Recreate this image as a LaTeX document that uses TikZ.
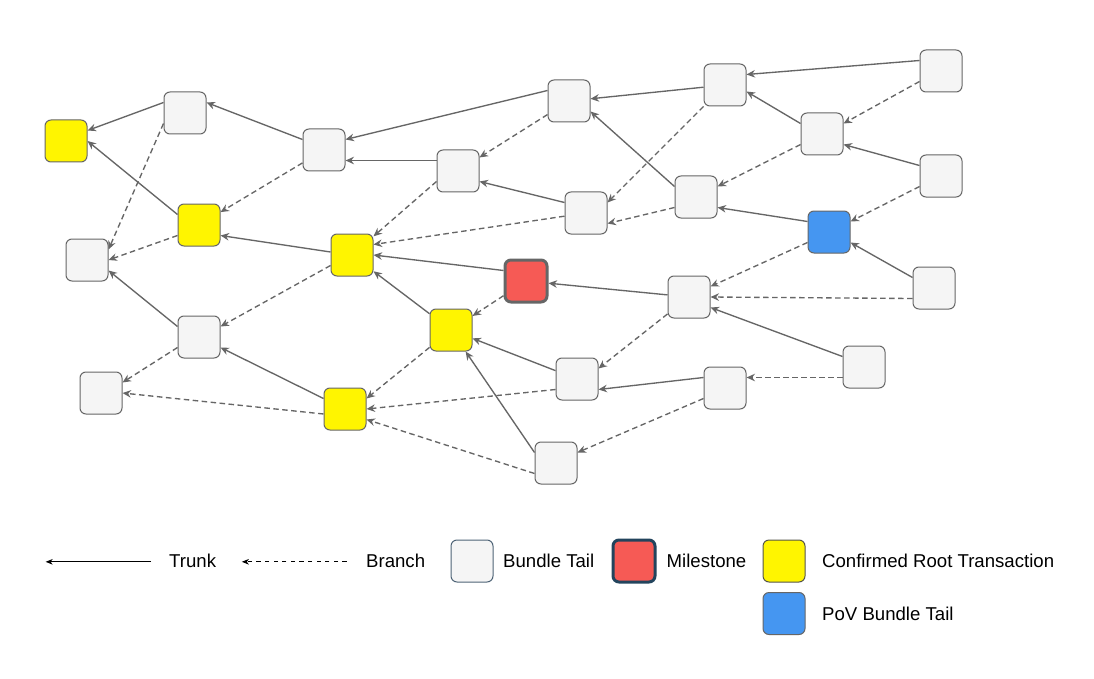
\documentclass[tikz,border=0pt]{standalone}
\usepackage{fontspec}
\setmainfont{Liberation Sans}
\usetikzlibrary{arrows.meta,calc}
\definecolor{cedge}{HTML}{666666}
\definecolor{cbox}{HTML}{666666}
\definecolor{cgray}{HTML}{F5F5F5}
\definecolor{cyel}{HTML}{FFF500}
\definecolor{cred}{HTML}{F65A55}
\definecolor{cblue}{HTML}{4596F1}
\definecolor{cnavy}{HTML}{23445D}
\definecolor{clegbt}{HTML}{4F6477}
\definecolor{clegy}{HTML}{55554A}
\tikzset{
  txbox/.style={draw=cbox, fill=cgray, rounded corners=6pt, minimum width=42pt,
    minimum height=42pt, inner sep=0pt, line width=1pt},
  yelbox/.style={txbox, fill=cyel},
  bluebox/.style={txbox, fill=cblue},
  milebox/.style={txbox, fill=cred, line width=3pt},
  trunk/.style={draw=cedge, line width=1.35pt, -{Stealth[length=8.5pt,width=7.5pt,inset=2.8pt]}},
  branch/.style={trunk, dash pattern=on 5.5pt off 3.5pt},
  legtrunk/.style={draw=black, line width=1.2pt, -{Stealth[length=7pt,width=5.5pt,inset=2pt]}},
  legbranch/.style={legtrunk, dash pattern=on 4.3pt off 4.3pt},
  legtext/.style={anchor=base west, inner sep=0pt, font=\fontsize{18.6pt}{22pt}\selectfont}
}
\begin{document}
\begin{tikzpicture}[x=1pt,y=-1pt]
\useasboundingbox (0,0) rectangle (1094,679);
\fill[white] (0,0) rectangle (1094,679);
% nodes
\node[yelbox] (Y1) at (66,141) {};
\node[txbox] (Ga) at (185,113) {};
\node[txbox] (Gb) at (324,150) {};
\node[yelbox] (Y2) at (199,225) {};
\node[txbox] (Gc) at (87,260) {};
\node[yelbox] (Y3) at (352,255) {};
\node[txbox] (Gd) at (569,101) {};
\node[txbox] (Ge) at (725,85) {};
\node[txbox] (Gf) at (458,171) {};
\node[txbox] (Gg) at (586,213) {};
\node[txbox] (Gh) at (696,197) {};
\node[txbox] (Gi) at (941,71) {};
\node[txbox] (Gj) at (822,134) {};
\node[txbox] (Gk) at (941,176) {};
\node[bluebox] (B) at (829,232) {};
\node[txbox] (Gl) at (934,288) {};
\node[txbox] (Gm) at (689,297) {};
\node[milebox] (M) at (526,281) {};
\node[yelbox] (Y4) at (451,330) {};
\node[txbox] (Gn) at (577,379) {};
\node[txbox] (Go) at (725,388) {};
\node[txbox] (Gp) at (864,367) {};
\node[txbox] (Gq) at (556,463) {};
\node[txbox] (Gr) at (199,337) {};
\node[txbox] (Gs) at (101,393) {};
\node[yelbox] (Y5) at (345,409) {};
% trunk edges
\draw[trunk] ($(Ga.west)+(0,-10.5)$) -- ($(Y1.east)+(0,-10.5)$);
\draw[trunk] ($(Gb.west)+(0,-10.5)$) -- ($(Ga.east)+(0,-10.5)$);
\draw[trunk] ($(Gd.west)+(0,-10.5)$) -- ($(Gb.east)+(0,-10.5)$);
\draw[trunk] ($(Gf.west)+(0,-10.5)$) -- ($(Gb.east)+(0,10.5)$);
\draw[trunk] ($(Y2.west)+(0,-10.5)$) -- (Y1.east);
\draw[trunk] ($(Y3.west)+(0,-3)$) -- ($(Y2.east)+(0,10.5)$);
\draw[trunk] (Ge) -- (Gd);
\draw[trunk] ($(Gi.west)+(0,-10.5)$) -- ($(Ge.east)+(0,-10.5)$);
\draw[trunk] ($(Gj.west)+(0,-10.5)$) -- ($(Ge.east)+(0,6.5)$);
\draw[trunk] ($(Gh.west)+(0,-10.5)$) -- ($(Gd.east)+(0,10.5)$);
\draw[trunk] ($(Gg.west)+(0,-10.5)$) -- ($(Gf.east)+(0,10.5)$);
\draw[trunk] ($(Gk.west)+(0,-10.5)$) -- ($(Gj.east)+(0,10.5)$);
\draw[trunk] ($(B.west)+(0,-10.5)$) -- ($(Gh.east)+(0,10.5)$);
\draw[trunk] ($(Gl.west)+(0,-10.5)$) -- ($(B.east)+(0,10.5)$);
\draw[trunk] ($(M.west)+(0,-10.5)$) -- (Y3.east);
\draw[trunk] (Gm) -- (M);
\draw[trunk] (Y4) -- (Y3);
\draw[trunk] (Gn) -- (Y4);
\draw[trunk] ($(Gq.west)+(0,-10.5)$) -- (Y4);
\draw[trunk] ($(Gp.west)+(0,-10.5)$) -- ($(Gm.east)+(0,10.5)$);
\draw[trunk] ($(Go.west)+(0,-10.5)$) -- ($(Gn.east)+(0,10.5)$);
\draw[trunk] ($(Gr.west)+(0,-10.5)$) -- ($(Gc.east)+(0,10.5)$);
\draw[trunk] ($(Y5.west)+(0,-10.5)$) -- ($(Gr.east)+(0,10.5)$);
% branch edges
\draw[branch] ($(Ga.west)+(0,10.5)$) -- ($(Gc.east)+(0,-10.5)$);
\draw[branch] ($(Y2.west)+(0,10.5)$) -- (Gc.east);
\draw[branch] (Gb) -- (Y2);
\draw[branch] (Gd) -- (Gf);
\draw[branch] ($(Gf.west)+(0,10.5)$) -- (Y3);
\draw[branch] (Gg) -- ($(Y3.east)+(0,-10.5)$);
\draw[branch] (Ge) -- ($(Gg.east)+(0,-10.5)$);
\draw[branch] ($(Gj.west)+(0,10.5)$) -- ($(Gh.east)+(0,-10.5)$);
\draw[branch] ($(Gi.west)+(0,10.5)$) -- ($(Gj.east)+(0,-10.5)$);
\draw[branch] ($(Gh.west)+(0,10.5)$) -- ($(Gg.east)+(0,10.5)$);
\draw[branch] ($(Gk.west)+(0,10.5)$) -- ($(B.east)+(0,-10.5)$);
\draw[branch] ($(B.west)+(0,10.5)$) -- ($(Gm.east)+(0,-10.5)$);
\draw[branch] ($(Gl.west)+(0,10.5)$) -- (Gm.east);
\draw[branch] (M) -- (Y4);
\draw[branch] (Gm) -- ($(Gn.east)+(0,-10.5)$);
\draw[branch] ($(Y3.west)+(0,10.5)$) -- ($(Gr.east)+(0,-10.5)$);
\draw[branch] ($(Gr.west)+(0,10.5)$) -- ($(Gs.east)+(0,-10.5)$);
\draw[branch] ($(Y5.west)+(0,5)$) -- (Gs.east);
\draw[branch] (Y4) -- ($(Y5.east)+(0,-10.5)$);
\draw[branch] ($(Gn.west)+(0,10.5)$) -- (Y5.east);
\draw[branch] ($(Gq.west)+(0,10.5)$) -- ($(Y5.east)+(0,10.5)$);
\draw[branch] ($(Go.west)+(0,10.5)$) -- ($(Gq.east)+(0,-10.5)$);
\draw[branch] ($(Gp.west)+(0,10.5)$) -- ($(Go.east)+(0,-10.5)$);
% legend
\coordinate (T1) at (151,561.8);
\coordinate (T0) at (45.6,561.8);
\draw[legtrunk] (T1) -- (T0);
\node[legtext] (Ttrunk) at (169,567.5) {Trunk};
\coordinate (B1) at (346.6,561.8);
\coordinate (B0) at (241.8,561.8);
\draw[legbranch] (B1) -- (B0);
\node[legtext] (Tbranch) at (366,567.5) {Branch};
\node[txbox, draw=clegbt] (Lbt) at (472,561) {};
\node[legtext] (Tbt) at (503,567.5) {Bundle Tail};
\node[milebox, draw=cnavy] (Lms) at (634,561) {};
\node[legtext] (Tms) at (666.5,567.5) {Milestone};
\node[yelbox, draw=clegy] (Lcr) at (784,561) {};
\node[legtext] (Tcr) at (822,567.5) {Confirmed Root Transaction};
\node[bluebox] (Lpov) at (784,613.5) {};
\node[legtext] (Tpov) at (822,620) {PoV Bundle Tail};
\end{tikzpicture}
\end{document}
